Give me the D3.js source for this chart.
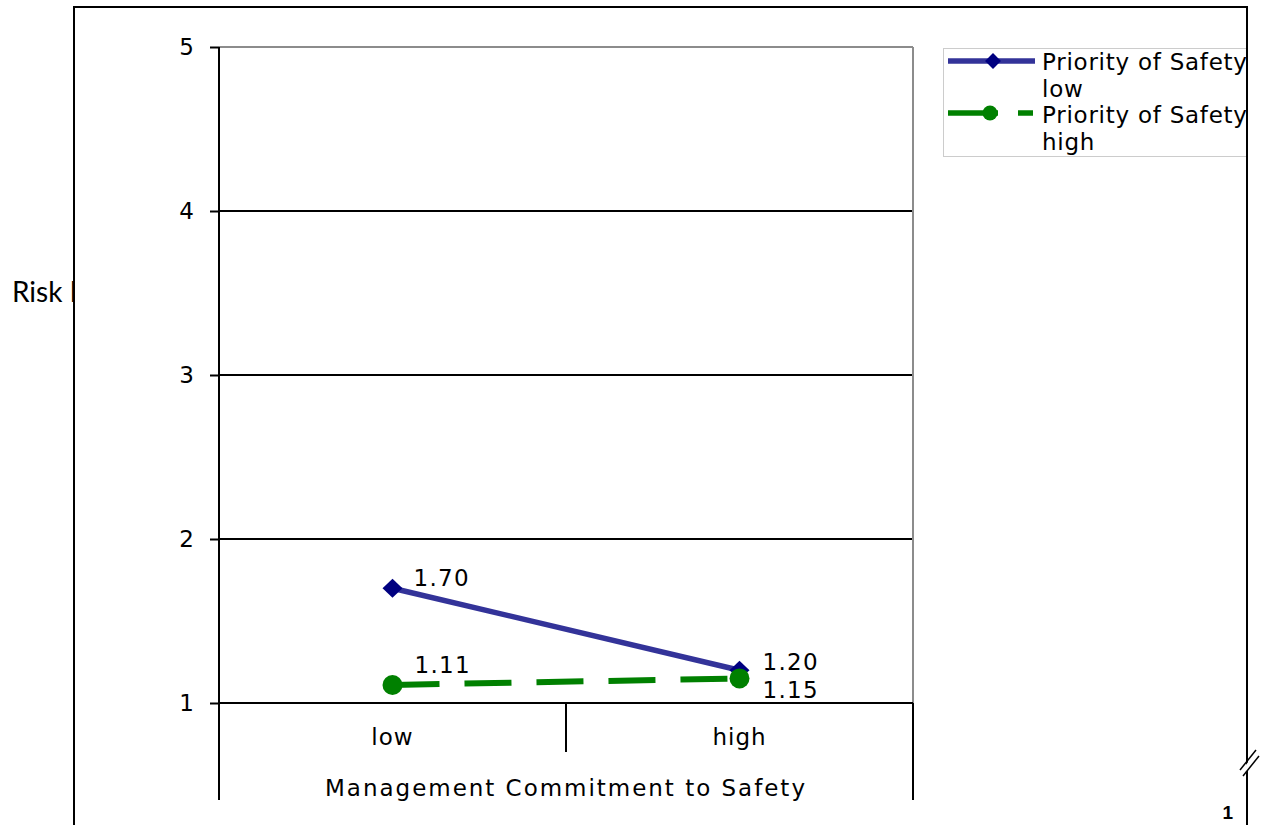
<!DOCTYPE html>
<html>
<head>
<meta charset="utf-8">
<script src="https://cdn.jsdelivr.net/npm/d3@7"></script>
<style>
  html, body { margin: 0; padding: 0; background: #fff; overflow: hidden; }
  svg { display: block; }
  text { font-family: "DejaVu Sans", Verdana, sans-serif; fill: #000; }
</style>
</head>
<body>
<script>
// ---- data ----
const categories = ["low", "high"];
const seriesNames = ["Priority of Safety low", "Priority of Safety high"];
const seriesLow = [1.70, 1.20];
const seriesHigh = [1.11, 1.15];
const valueLabelsLow = ["1.70", "1.20"];
const valueLabelsHigh = ["1.11", "1.15"];
const yTicks = [1, 2, 3, 4, 5];
const xAxisTitle = "Management Commitment to Safety";
const yAxisTitle = "Risk Perception";
const pageNumber = "1";

// ---- layout ----
const W = 1264, H = 825;
const plot = { left: 219, right: 913, top: 47, bottom: 703 };
const FS = 23, LS = 1;

const svg = d3.select("body").append("svg").attr("width", W).attr("height", H);

const y = d3.scaleLinear().domain([1, 5]).range([plot.bottom, plot.top]);
const x = d3.scaleBand().domain(categories).range([plot.left, plot.right]).padding(0);
const cx = d => x(d) + x.bandwidth() / 2;

svg.append("defs").call(defs => {
  defs.append("clipPath").attr("id", "outside")
    .append("rect").attr("x", 0).attr("y", 0).attr("width", 73).attr("height", H);
  defs.append("clipPath").attr("id", "inside")
    .append("rect").attr("x", 75).attr("y", 0).attr("width", 1246 - 75).attr("height", H);
});

// y-axis title (clipped by the frame)
svg.append("text")
  .attr("clip-path", "url(#outside)")
  .attr("x", 12).attr("y", 302)
  .style("font-family", "Lato, 'Liberation Sans', sans-serif")
  .style("font-size", "28px")
  .text(yAxisTitle);

const g = svg.append("g").attr("clip-path", "url(#inside)");

// gridlines / plot border
g.append("g").selectAll("line").data(yTicks).join("line")
  .attr("x1", plot.left).attr("x2", plot.right)
  .attr("y1", d => y(d)).attr("y2", d => y(d))
  .attr("stroke", d => d === 5 ? "#8c8c8c" : "#000")
  .attr("stroke-width", 2);
g.append("line")
  .attr("x1", plot.right).attr("x2", plot.right)
  .attr("y1", plot.top).attr("y2", plot.bottom)
  .attr("stroke", "#8c8c8c").attr("stroke-width", 2);

// y axis
const yAxis = d3.axisLeft(y).tickValues(yTicks).tickSize(9).tickPadding(16).tickFormat(d3.format("d"));
const ya = g.append("g").attr("transform", `translate(${plot.left},0)`).call(yAxis)
  .attr("font-size", FS).attr("font-family", "DejaVu Sans");
ya.select(".domain").remove();
ya.selectAll(".tick line").attr("stroke", "#000").attr("stroke-width", 2);
ya.selectAll(".tick text").attr("fill", "#000");

g.append("line")
  .attr("x1", plot.left).attr("x2", plot.left)
  .attr("y1", plot.top).attr("y2", 800)
  .attr("stroke", "#000").attr("stroke-width", 2);

// x axis
const xAxis = d3.axisBottom(x).tickSize(0).tickPadding(26);
const xa = g.append("g").attr("transform", `translate(0,${plot.bottom})`).call(xAxis)
  .attr("font-size", FS).attr("font-family", "DejaVu Sans");
xa.select(".domain").remove();
xa.selectAll(".tick text").style("letter-spacing", LS + "px").attr("fill", "#000");
g.append("line")
  .attr("x1", plot.left).attr("x2", plot.right)
  .attr("y1", plot.bottom).attr("y2", plot.bottom)
  .attr("stroke", "#000").attr("stroke-width", 2);
g.append("g").selectAll("line").data(categories.slice(1)).join("line")
  .attr("x1", d => x(d)).attr("x2", d => x(d))
  .attr("y1", plot.bottom).attr("y2", 752)
  .attr("stroke", "#000").attr("stroke-width", 2);
g.append("line")
  .attr("x1", plot.right).attr("x2", plot.right)
  .attr("y1", plot.bottom).attr("y2", 800)
  .attr("stroke", "#000").attr("stroke-width", 2);

// x axis title
g.append("text")
  .attr("x", (plot.left + plot.right) / 2 - 1).attr("y", 796)
  .attr("text-anchor", "middle")
  .style("font-size", FS + "px")
  .attr("textLength", 480).attr("lengthAdjust", "spacing")
  .text(xAxisTitle);

// series
const line = d3.line().x(d => cx(d.c)).y(d => y(d.v));
const lowData = categories.map((c, i) => ({ c, v: seriesLow[i], label: valueLabelsLow[i] }));
const highData = categories.map((c, i) => ({ c, v: seriesHigh[i], label: valueLabelsHigh[i] }));

g.append("path").datum(highData)
  .attr("d", line).attr("fill", "none")
  .attr("stroke", "#008000").attr("stroke-width", 6)
  .attr("stroke-dasharray", "47,25");
g.append("path").datum(lowData)
  .attr("d", line).attr("fill", "none")
  .attr("stroke", "#333399").attr("stroke-width", 5.5);

const diamond = d3.symbol().type(d3.symbolDiamond2).size(230);
g.append("g").selectAll("path").data(lowData).join("path")
  .attr("transform", d => `translate(${cx(d.c)},${y(d.v)}) scale(1.05,1)`)
  .attr("d", diamond).attr("fill", "#000080");
g.append("g").selectAll("circle").data(highData).join("circle")
  .attr("cx", d => cx(d.c)).attr("cy", d => y(d.v)).attr("r", 10)
  .attr("fill", "#008000");

// value labels (manual offsets as in the original)
const lowOffsets = [[21, -2], [23, 0]];
const highOffsets = [[22, -12], [23, 20]];
g.append("g").selectAll("text").data(lowData).join("text")
  .attr("x", (d, i) => cx(d.c) + lowOffsets[i][0])
  .attr("y", (d, i) => y(d.v) + lowOffsets[i][1])
  .style("font-size", FS + "px").style("letter-spacing", "1.3px")
  .text(d => d.label);
g.append("g").selectAll("text").data(highData).join("text")
  .attr("x", (d, i) => cx(d.c) + highOffsets[i][0])
  .attr("y", (d, i) => y(d.v) + highOffsets[i][1])
  .style("font-size", FS + "px").style("letter-spacing", "1.3px")
  .text(d => d.label);

// legend
const lg = g.append("g");
lg.append("rect").attr("x", 943.5).attr("y", 48.5).attr("width", 320).attr("height", 108)
  .attr("fill", "#fff").attr("stroke", "#999").attr("stroke-width", 1).attr("stroke-dasharray", "1,1");
const legendItems = [
  { name: seriesNames[0], y: 61, color: "#333399", mark: "#000080", type: "diamond", dash: null, textY: 70 },
  { name: seriesNames[1], y: 113, color: "#008000", mark: "#008000", type: "circle", dash: "50,20,15", textY: 123 }
];
legendItems.forEach(it => {
  lg.append("line").attr("x1", 948).attr("x2", 1035).attr("y1", it.y).attr("y2", it.y)
    .attr("stroke", it.color).attr("stroke-width", 5.5)
    .attr("stroke-dasharray", it.dash);
  if (it.type === "diamond") {
    lg.append("path").attr("transform", `translate(993,${it.y})`)
      .attr("d", d3.symbol().type(d3.symbolDiamond2).size(160)).attr("fill", it.mark);
  } else {
    lg.append("circle").attr("cx", 990).attr("cy", it.y).attr("r", 7.5).attr("fill", it.mark);
  }
  const words = it.name.split(" ");
  const t = lg.append("text").attr("x", 1042).attr("y", it.textY)
    .style("font-size", FS + "px").style("letter-spacing", "0.75px");
  t.append("tspan").attr("x", 1042).text(words.slice(0, 3).join(" "));
  t.append("tspan").attr("x", 1042).attr("dy", 27).text(words.slice(3).join(" "));
});

// outer frame
svg.append("line").attr("x1", 74).attr("x2", 74).attr("y1", 6).attr("y2", H)
  .attr("stroke", "#000").attr("stroke-width", 2);
svg.append("line").attr("x1", 73).attr("x2", 1248).attr("y1", 7).attr("y2", 7)
  .attr("stroke", "#000").attr("stroke-width", 2);
svg.append("line").attr("x1", 1247).attr("x2", 1247).attr("y1", 6).attr("y2", H)
  .attr("stroke", "#000").attr("stroke-width", 2);
// break mark
svg.append("polygon").attr("points", "1241,771 1257,751 1260,755 1244,775").attr("fill", "#fff");
svg.append("line").attr("x1", 1240).attr("y1", 770).attr("x2", 1256).attr("y2", 750)
  .attr("stroke", "#000").attr("stroke-width", 1.5);
svg.append("line").attr("x1", 1243).attr("y1", 776).attr("x2", 1259).attr("y2", 756)
  .attr("stroke", "#000").attr("stroke-width", 1.5);

// page number
svg.append("text").attr("x", 1233).attr("y", 819).attr("text-anchor", "end")
  .style("font-family", "'Liberation Sans', Arial, sans-serif").style("font-size", "19px")
  .style("font-weight", "bold")
  .text(pageNumber);
</script>
</body>
</html>
